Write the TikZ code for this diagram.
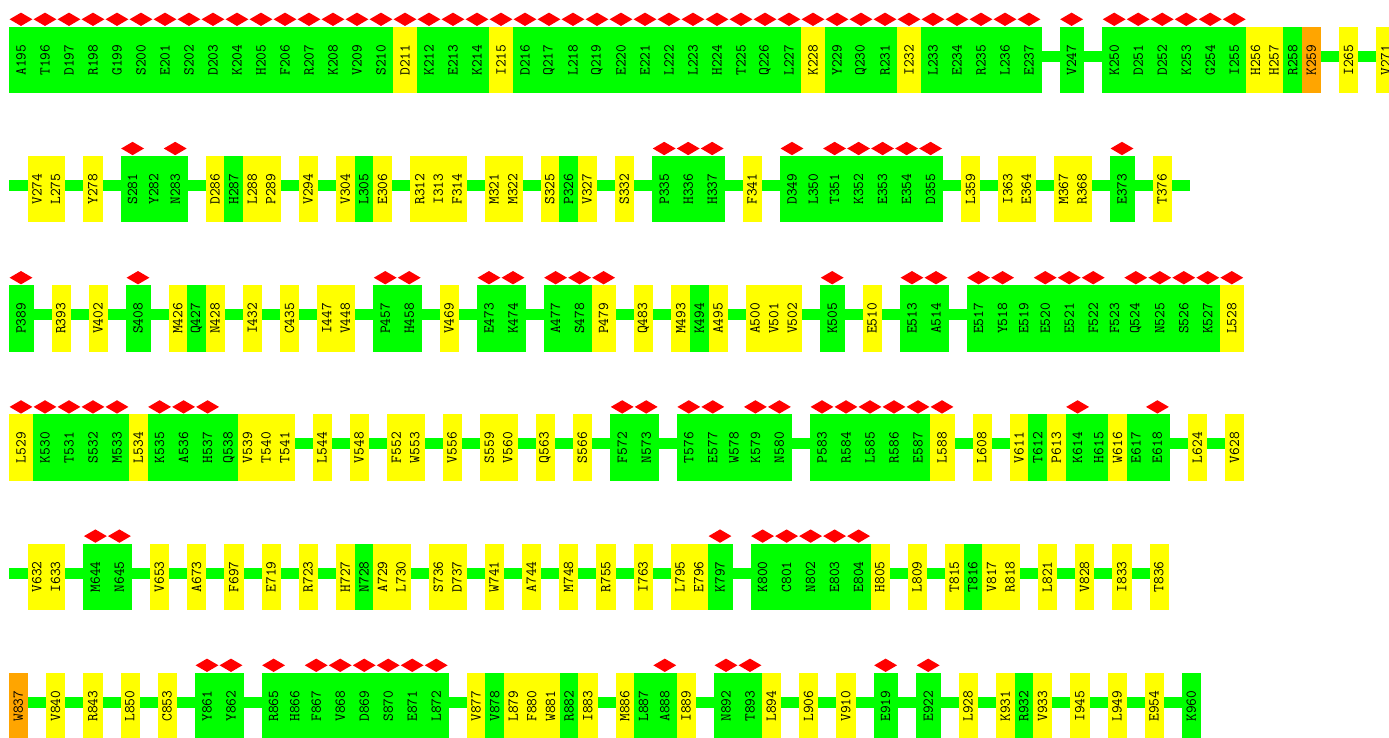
\documentclass[tikz,border=0pt]{standalone}
\usepackage{fontspec}
\usetikzlibrary{shapes.geometric}
\pgfdeclarelayer{bg}\pgfsetlayers{bg,main}
\definecolor{resG}{RGB}{0,255,0}
\definecolor{resY}{RGB}{255,255,0}
\definecolor{resO}{RGB}{255,165,0}
\definecolor{dmR}{RGB}{255,0,0}
\tikzset{
 cell/.style={rectangle,draw=none,inner sep=0pt,minimum height=66.5pt},
 lab/.style={rotate=90,inner sep=0pt,text=black,font=\fontsize{15}{15}\selectfont\ttfamily},
 dia/.style={diamond,fill=dmR,draw=none,inner sep=0pt,minimum width=23pt,minimum height=13.5pt},
 bb/.style={fill=resG}}
\newcommand\res[4]{%
  \pgfmathsetmacro\cxm{\curx+#3/2}%
  \node[cell,fill=#1,minimum width=#3pt+0.5pt] (#2) at (\cxm+0.25,\curtop+33.25) {};%
  \node[lab] (t#2) at (\cxm,\curtop+33.25) {#2};%
  \ifnum#4=1 \node[dia] (d#2) at (\cxm,\curtop-7.5) {};\fi
  \pgfmathsetmacro\nx{\curx+#3}\xdef\curx{\nx}}
\newcommand\Gd[1]{\res{resG}{#1}{24}{1}}
\newcommand\Gp[1]{\res{resG}{#1}{18.6}{0}}
\newcommand\Yd[1]{\res{resY}{#1}{24}{1}}
\newcommand\Yp[1]{\res{resY}{#1}{18.6}{0}}
\newcommand\Op[1]{\res{resO}{#1}{18.6}{0}}
\newcommand\skipres{\pgfmathsetmacro\nx{\curx+18.6}\xdef\curx{\nx}}
\newcommand\rowbegin[1]{\xdef\curx{9}\xdef\curtop{#1}}
\newcommand\rowfinish[1]{\coordinate (bb#1s) at (9,\curtop+24);\coordinate (bb#1e) at (\curx,\curtop+35);\begin{pgfonlayer}{bg}\fill[bb] (bb#1s) rectangle (bb#1e);\end{pgfonlayer}}
\begin{document}
\begin{tikzpicture}[x=1pt,y=-1pt]
\useasboundingbox (0,0) rectangle (1389,738);
\clip (0,0) rectangle (1389,738);
\begin{pgfonlayer}{bg}
\fill[white] (0,0) rectangle (1389,738);
\end{pgfonlayer}
% row 1
\rowbegin{26.8}
\Gd{A195}\Gd{T196}\Gd{D197}\Gd{R198}\Gd{G199}\Gd{S200}\Gd{E201}\Gd{S202}\Gd{D203}\Gd{K204}\Gd{H205}\Gd{F206}\Gd{R207}\Gd{K208}\Gd{V209}\Gd{S210}\Yd{D211}\Gd{K212}\Gd{E213}\Gd{K214}\Yd{I215}\Gd{D216}\Gd{Q217}\Gd{L218}\Gd{Q219}\Gd{E220}\Gd{E221}\Gd{L222}\Gd{L223}\Gd{H224}\Gd{T225}\Gd{Q226}\Gd{L227}\Yd{K228}\Gd{Y229}\Gd{Q230}\Gd{R231}\Yd{I232}\Gd{L233}\Gd{E234}\Gd{R235}\Gd{L236}\Gd{E237}\skipres\Gd{V247}\skipres\Gd{K250}\Gd{D251}\Gd{D252}\Gd{K253}\Gd{G254}\Gd{I255}\Yp{H256}\Yp{H257}\Gp{R258}\Op{K259}\skipres\Yp{I265}\skipres\Yp{V271}
\rowfinish{1}
% row 2
\rowbegin{156}
\skipres\Yp{V274}\Yp{L275}\skipres\Yp{Y278}\skipres\Gd{S281}\Gp{Y282}\Gd{N283}\skipres\Yp{D286}\Gp{H287}\Yp{L288}\Yp{P289}\skipres\Yp{V294}\skipres\Yp{V304}\Gp{L305}\Yp{E306}\skipres\Yp{R312}\Yp{I313}\Yp{F314}\skipres\Yp{M321}\Yp{M322}\skipres\Yp{S325}\Gp{P326}\Yp{V327}\skipres\Yp{S332}\skipres\Gd{P335}\Gd{H336}\Gd{H337}\skipres\Yp{F341}\skipres\Gd{D349}\Gp{L350}\Gd{T351}\Gd{K352}\Gd{E353}\Gd{E354}\Gd{D355}\skipres\Yp{L359}\skipres\Yp{I363}\Yp{E364}\skipres\Yp{M367}\Yp{R368}\skipres\Gd{E373}\skipres\Yp{T376}\skipres
\rowfinish{2}
% row 3
\rowbegin{285.2}
\Gd{P389}\skipres\Yp{R393}\skipres\Yp{V402}\skipres\Gd{S408}\skipres\Yp{M426}\Gp{Q427}\Yp{N428}\skipres\Yp{I432}\skipres\Yp{C435}\skipres\Yp{I447}\Yp{V448}\skipres\Gd{P457}\Gd{H458}\skipres\Yp{V469}\skipres\Gd{E473}\Gd{K474}\skipres\Gd{A477}\Gd{S478}\Yd{P479}\skipres\Yp{Q483}\skipres\Yp{M493}\Gp{K494}\Yp{A495}\skipres\Yp{A500}\Yp{V501}\Yp{V502}\skipres\Gd{K505}\skipres\Yp{E510}\skipres\Gd{E513}\Gd{A514}\skipres\Gd{E517}\Gd{Y518}\Gp{E519}\Gd{E520}\Gd{E521}\Gd{F522}\Gp{F523}\Gd{Q524}\Gd{N525}\Gd{S526}\Gd{K527}\Yd{L528}
\rowfinish{3}
% row 4
\rowbegin{414.4}
\Yd{L529}\Gd{K530}\Gd{T531}\Gd{S532}\Gd{M533}\Yp{L534}\Gd{K535}\Gd{A536}\Gd{H537}\Gp{Q538}\Yp{V539}\Yp{T540}\Yp{T541}\skipres\Yp{L544}\skipres\Yp{V548}\skipres\Yp{F552}\Yp{W553}\skipres\Yp{V556}\skipres\Yp{S559}\Yp{V560}\skipres\Yp{Q563}\skipres\Yp{S566}\skipres\Gd{F572}\Gd{N573}\skipres\Gd{T576}\Gd{E577}\Gp{W578}\Gd{K579}\Gd{N580}\skipres\Gd{P583}\Gd{R584}\Gd{L585}\Gd{R586}\Gd{E587}\Yd{L588}\skipres\Yp{L608}\skipres\Yp{V611}\Gp{T612}\Yp{P613}\Gd{K614}\Gp{H615}\Yp{W616}\Gp{E617}\Gd{E618}\skipres\Yp{L624}\skipres\Yp{V628}
\rowfinish{4}
% row 5
\rowbegin{543.6}
\skipres\Yp{V632}\Yp{I633}\skipres\Gd{M644}\Gd{N645}\skipres\Yp{V653}\skipres\Yp{A673}\skipres\Yp{F697}\skipres\Yp{E719}\skipres\Yp{R723}\skipres\Yp{H727}\Gp{N728}\Yp{A729}\Yp{L730}\skipres\Yp{S736}\Yp{D737}\skipres\Yp{W741}\skipres\Yp{A744}\skipres\Yp{M748}\skipres\Yp{R755}\skipres\Yp{I763}\skipres\Yp{L795}\Yp{E796}\Gd{K797}\skipres\Gd{K800}\Gd{C801}\Gd{N802}\Gd{E803}\Gd{E804}\Yp{H805}\skipres\Yp{L809}\skipres\Yp{T815}\Gp{T816}\Yp{V817}\Yp{R818}\skipres\Yp{L821}\skipres\Yp{V828}\skipres\Yp{I833}\skipres\Yp{T836}
\rowfinish{5}
% row 6
\rowbegin{672.8}
\Op{W837}\skipres\Yp{V840}\skipres\Yp{R843}\skipres\Yp{L850}\skipres\Yp{C853}\skipres\Gd{Y861}\Gd{Y862}\skipres\Gd{R865}\Gp{H866}\Gd{F867}\Gd{V868}\Gd{D869}\Gd{S870}\Gd{E871}\Gd{L872}\skipres\Yp{V877}\Gp{V878}\Yp{L879}\Yp{F880}\Yp{W881}\Gp{R882}\Yp{I883}\skipres\Yp{M886}\Gp{L887}\Gd{A888}\Yp{I889}\skipres\Gd{N892}\Gd{T893}\Yp{L894}\skipres\Yp{L906}\skipres\Yp{V910}\skipres\Gd{E919}\skipres\Gd{E922}\skipres\Yp{L928}\skipres\Yp{K931}\Gp{R932}\Yp{V933}\skipres\Yp{I945}\skipres\Yp{L949}\skipres\Yp{E954}\skipres\Gp{K960}
\rowfinish{6}
\end{tikzpicture}
\end{document}
